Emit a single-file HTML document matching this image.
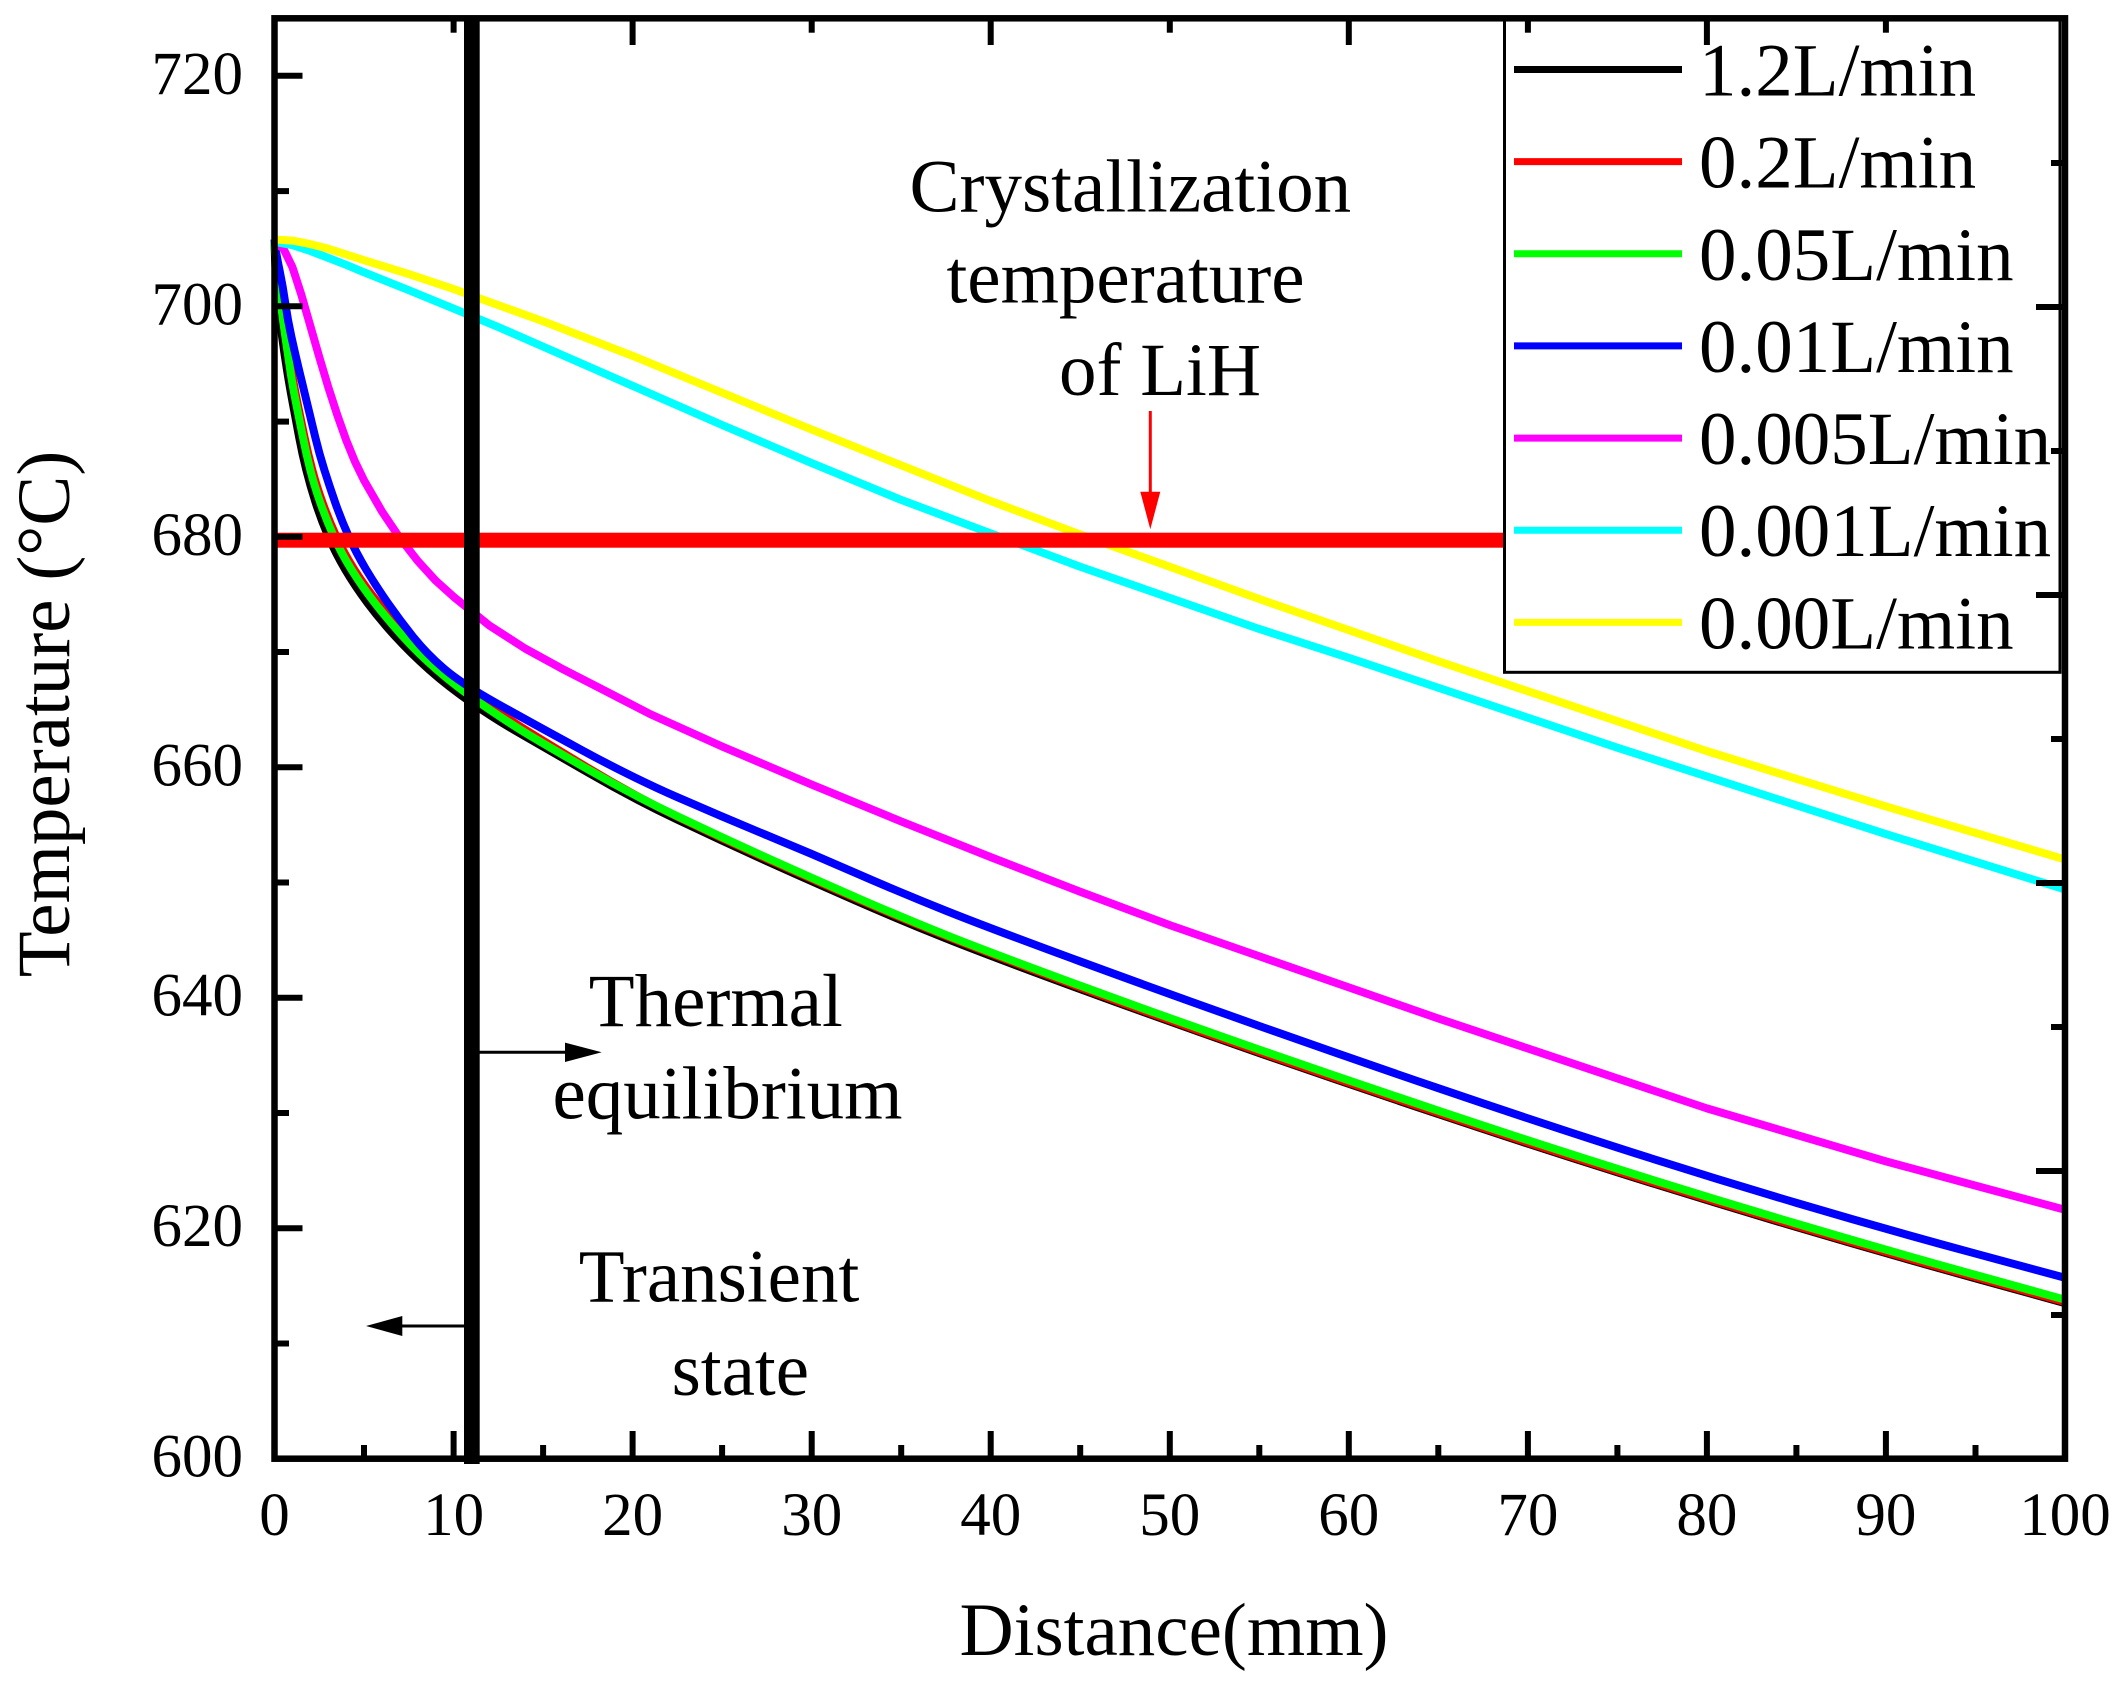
<!DOCTYPE html>
<html>
<head>
<meta charset="utf-8">
<style>
  html,body{margin:0;padding:0;background:#fff;}
  svg{display:block;}
  text{font-family:"Liberation Serif","Times New Roman",serif;fill:#000;}
</style>
</head>
<body>
<svg width="2123" height="1690" viewBox="0 0 2123 1690" xmlns="http://www.w3.org/2000/svg">
  <rect x="0" y="0" width="2123" height="1690" fill="#fff"/>

  <!-- Data curves (data coordinates via transform) -->
  <g transform="matrix(17.905 0 0 -11.524 274.5 8373.1)" fill="none" stroke-linejoin="round" stroke-linecap="butt">
    <!-- 1.2 L/min black -->
    <path vector-effect="non-scaling-stroke" stroke="#000" stroke-width="8"
      d="M0,705.8 L0.025,704.4 Q0.05,703 0.175,700.9 Q0.3,698.8 0.425,697.35 Q0.55,695.9 0.7,694.45 Q0.85,693 1.025,691.55 Q1.2,690.1 1.375,688.65 Q1.55,687.2 1.775,685.8 Q2,684.4 2.3,682.95 Q2.6,681.5 3,680.05 Q3.4,678.6 3.95,677.15 Q4.5,675.7 5.2,674.25 Q5.9,672.8 6.75,671.35 Q7.6,669.9 8.65,668.45 Q9.7,667 11.05,665.55 Q12.4,664.1 13.7,662.95 Q15,661.8 17.5,659.55 Q20,657.3 22.5,655.45 Q25,653.6 27.5,651.85 Q30,650.1 32.5,648.4 Q35,646.7 37.5,645.15 Q40,643.6 45,640.75 Q50,637.9 55,635.2 Q60,632.5 65,629.9 Q70,627.3 75,624.85 Q80,622.4 85,620.1 Q90,617.8 95,615.65 L100,613.5"/>
    <!-- 0.2 L/min red -->
    <path vector-effect="non-scaling-stroke" stroke="#ff0000" stroke-width="8"
      d="M0,705.8 L0.05,704.4 Q0.1,703 0.31,700.9 Q0.52,698.8 0.66,697.35 Q0.8,695.9 0.95,694.45 Q1.1,693 1.29,691.55 Q1.48,690.1 1.675,688.65 Q1.87,687.2 2.11,685.8 Q2.35,684.4 2.685,682.95 Q3.02,681.5 3.445,680.05 Q3.87,678.6 4.46,677.15 Q5.05,675.7 5.8,674.25 Q6.55,672.8 7.4,671.35 Q8.25,669.9 9.35,668.45 Q10.45,667 11.8,665.55 Q13.15,664.1 14.075,663.2 Q15,662.3 17.5,659.95 Q20,657.6 22.5,655.7 Q25,653.8 27.5,652.05 Q30,650.3 32.5,648.6 Q35,646.9 37.5,645.35 Q40,643.8 45,640.9 Q50,638 55,635.3 Q60,632.6 65,630 Q70,627.4 75,624.95 Q80,622.5 85,620.2 Q90,617.9 95,615.75 L100,613.6"/>
    <!-- 0.05 L/min green -->
    <path vector-effect="non-scaling-stroke" stroke="#00ff00" stroke-width="8"
      d="M0,705.8 L0.025,704.95 Q0.05,704.1 0.26,701.45 Q0.47,698.8 0.605,697.35 Q0.74,695.9 0.88,694.45 Q1.02,693 1.21,691.55 Q1.4,690.1 1.585,688.65 Q1.77,687.2 2,685.8 Q2.23,684.4 2.56,682.95 Q2.89,681.5 3.305,680.05 Q3.72,678.6 4.3,677.15 Q4.88,675.7 5.605,674.25 Q6.33,672.8 7.17,671.35 Q8.01,669.9 9.08,668.45 Q10.15,667 11.5,665.55 Q12.85,664.1 13.925,663.075 Q15,662.05 17.5,659.825 Q20,657.6 22.5,655.75 Q25,653.9 27.5,652.15 Q30,650.4 32.5,648.7 Q35,647 37.5,645.45 Q40,643.9 45,641.05 Q50,638.2 55,635.5 Q60,632.8 65,630.2 Q70,627.6 75,625.15 Q80,622.7 85,620.4 Q90,618.1 95,615.95 L100,613.8"/>
    <!-- 0.01 L/min blue -->
    <path vector-effect="non-scaling-stroke" stroke="#0000ff" stroke-width="8"
      d="M0,705.8 L0.05,705.15 Q0.1,704.5 0.285,703.1 Q0.47,701.7 0.605,700.25 Q0.74,698.8 0.945,697.35 Q1.15,695.9 1.375,694.45 Q1.6,693 1.825,691.55 Q2.05,690.1 2.275,688.65 Q2.5,687.2 2.785,685.8 Q3.07,684.4 3.395,682.95 Q3.72,681.5 4.14,680.05 Q4.56,678.6 5.12,677.15 Q5.68,675.7 6.33,674.25 Q6.98,672.8 7.725,671.35 Q8.47,669.9 9.435,668.6 Q10.4,667.3 12.35,665.6 Q14.3,663.9 17.15,661.5 Q20,659.1 22.5,657.4 Q25,655.7 27.5,654.1 Q30,652.5 32.5,650.8 Q35,649.1 37.5,647.55 Q40,646 45,643.15 Q50,640.3 55,637.55 Q60,634.8 65,632.15 Q70,629.5 75,627 Q80,624.5 85,622.2 Q90,619.9 95,617.8 L100,615.7"/>
    <!-- 0.005 L/min magenta -->
    <polyline vector-effect="non-scaling-stroke" stroke="#ff00ff" stroke-width="8"
      points="0,705.6 0.5,705.0 1,703.4 1.5,701.0 2,698.3 2.5,695.6 3,693.0 3.5,690.6 4,688.4 4.5,686.5 5,684.9 6,682.2 7,679.9 8,677.9 9,676.2 10,674.8 12,672.3 14,670.3 16,668.6 18,667.0 21,664.6 25,661.8 30,658.5 35,655.3 40,652.2 45,649.2 50,646.3 55,643.6 60,640.9 65,638.2 70,635.6 75,633.0 80,630.4 85,628.1 90,625.8 95,623.7 100,621.6"/>
    <!-- 0.001 L/min cyan -->
    <polyline vector-effect="non-scaling-stroke" stroke="#00ffff" stroke-width="8"
      points="0,705.6 1,705.3 2,704.8 3,704.2 4,703.6 5,702.95 7.5,701.4 10,699.8 12.5,698.2 15,696.5 20,693.1 25,689.7 30,686.4 35,683.2 40,680.3 45,677.4 50,674.7 55,672.0 60,669.5 65,666.9 70,664.3 75,661.7 80,659.2 85,656.7 90,654.2 95,651.8 100,649.4"/>
    <!-- 0.00 L/min yellow -->
    <polyline vector-effect="non-scaling-stroke" stroke="#ffff00" stroke-width="8"
      points="0,705.8 1,705.7 2,705.4 3,705.0 4,704.5 5,704.0 7.5,702.8 10,701.5 12.5,700.1 15,698.7 20,695.7 25,692.5 30,689.3 35,686.2 40,683.1 45,680.2 50,677.4 55,674.6 60,671.9 65,669.2 70,666.6 75,664.0 80,661.4 85,659.0 90,656.6 95,654.3 100,652.0"/>
  </g>

  <!-- Crystallization temperature line (680) -->
  <rect x="277" y="532.7" width="1228" height="15" fill="#ff0000"/>

  <!-- Thick vertical boundary line at x=11 -->
  <rect x="464" y="18" width="15.7" height="1446" fill="#000"/>

  <!-- Legend box -->
  <rect x="1504.5" y="18.3" width="555.5" height="654" fill="#fff" stroke="#000" stroke-width="3"/>
  <g stroke-width="7">
    <line x1="1514" y1="69.5" x2="1682" y2="69.5" stroke="#000"/>
    <line x1="1514" y1="161.6" x2="1682" y2="161.6" stroke="#ff0000"/>
    <line x1="1514" y1="253.8" x2="1682" y2="253.8" stroke="#00ff00"/>
    <line x1="1514" y1="345.9" x2="1682" y2="345.9" stroke="#0000ff"/>
    <line x1="1514" y1="438.1" x2="1682" y2="438.1" stroke="#ff00ff"/>
    <line x1="1514" y1="530.2" x2="1682" y2="530.2" stroke="#00ffff"/>
    <line x1="1514" y1="622.4" x2="1682" y2="622.4" stroke="#ffff00"/>
  </g>
  <g font-size="75">
    <text x="1699" y="95.5">1.2L/min</text>
    <text x="1699" y="187.6">0.2L/min</text>
    <text x="1699" y="279.8">0.05L/min</text>
    <text x="1699" y="371.9">0.01L/min</text>
    <text x="1699" y="464.1">0.005L/min</text>
    <text x="1699" y="556.2">0.001L/min</text>
    <text x="1699" y="648.4">0.00L/min</text>
  </g>

  <!-- Axis frame -->
  <rect x="274.5" y="18.3" width="1790.5" height="1440.4" fill="none" stroke="#000" stroke-width="6.5"/>

  <!-- Ticks -->
  <g stroke="#000" stroke-width="6">
    <!-- bottom major every 10 -->
    <line x1="453.6" y1="1458.7" x2="453.6" y2="1431"/>
    <line x1="632.6" y1="1458.7" x2="632.6" y2="1431"/>
    <line x1="811.7" y1="1458.7" x2="811.7" y2="1431"/>
    <line x1="990.7" y1="1458.7" x2="990.7" y2="1431"/>
    <line x1="1169.8" y1="1458.7" x2="1169.8" y2="1431"/>
    <line x1="1348.8" y1="1458.7" x2="1348.8" y2="1431"/>
    <line x1="1527.9" y1="1458.7" x2="1527.9" y2="1431"/>
    <line x1="1706.9" y1="1458.7" x2="1706.9" y2="1431"/>
    <line x1="1885.9" y1="1458.7" x2="1885.9" y2="1431"/>
    <!-- bottom minor -->
    <line x1="364.0" y1="1458.7" x2="364.0" y2="1445"/>
    <line x1="543.1" y1="1458.7" x2="543.1" y2="1445"/>
    <line x1="722.1" y1="1458.7" x2="722.1" y2="1445"/>
    <line x1="901.2" y1="1458.7" x2="901.2" y2="1445"/>
    <line x1="1080.2" y1="1458.7" x2="1080.2" y2="1445"/>
    <line x1="1259.3" y1="1458.7" x2="1259.3" y2="1445"/>
    <line x1="1438.3" y1="1458.7" x2="1438.3" y2="1445"/>
    <line x1="1617.4" y1="1458.7" x2="1617.4" y2="1445"/>
    <line x1="1796.4" y1="1458.7" x2="1796.4" y2="1445"/>
    <line x1="1975.5" y1="1458.7" x2="1975.5" y2="1445"/>
    <!-- top major every 20 -->
    <line x1="632.6" y1="18.3" x2="632.6" y2="45"/>
    <line x1="990.7" y1="18.3" x2="990.7" y2="45"/>
    <line x1="1348.8" y1="18.3" x2="1348.8" y2="45"/>
    <line x1="1706.9" y1="18.3" x2="1706.9" y2="45"/>
    <!-- top minor -->
    <line x1="453.6" y1="18.3" x2="453.6" y2="32.7"/>
    <line x1="811.7" y1="18.3" x2="811.7" y2="32.7"/>
    <line x1="1169.8" y1="18.3" x2="1169.8" y2="32.7"/>
    <line x1="1527.9" y1="18.3" x2="1527.9" y2="32.7"/>
    <line x1="1885.9" y1="18.3" x2="1885.9" y2="32.7"/>
    <!-- left major every 20 -->
    <line x1="274.5" y1="1228.2" x2="302.5" y2="1228.2"/>
    <line x1="274.5" y1="997.7" x2="302.5" y2="997.7"/>
    <line x1="274.5" y1="767.3" x2="302.5" y2="767.3"/>
    <line x1="274.5" y1="536.8" x2="302.5" y2="536.8"/>
    <line x1="274.5" y1="306.3" x2="302.5" y2="306.3"/>
    <line x1="274.5" y1="75.8" x2="302.5" y2="75.8"/>
    <!-- left minor -->
    <line x1="274.5" y1="1343.5" x2="289" y2="1343.5"/>
    <line x1="274.5" y1="1113.0" x2="289" y2="1113.0"/>
    <line x1="274.5" y1="882.5" x2="289" y2="882.5"/>
    <line x1="274.5" y1="652.0" x2="289" y2="652.0"/>
    <line x1="274.5" y1="421.6" x2="289" y2="421.6"/>
    <line x1="274.5" y1="191.1" x2="289" y2="191.1"/>
    <!-- right major -->
    <line x1="2065" y1="307" x2="2036" y2="307"/>
    <line x1="2065" y1="595" x2="2036" y2="595"/>
    <line x1="2065" y1="883" x2="2036" y2="883"/>
    <line x1="2065" y1="1171" x2="2036" y2="1171"/>
    <!-- right minor -->
    <line x1="2065" y1="163" x2="2051" y2="163"/>
    <line x1="2065" y1="451" x2="2051" y2="451"/>
    <line x1="2065" y1="739" x2="2051" y2="739"/>
    <line x1="2065" y1="1027" x2="2051" y2="1027"/>
    <line x1="2065" y1="1315" x2="2051" y2="1315"/>
  </g>

  <!-- X tick labels -->
  <g font-size="61" text-anchor="middle">
    <text x="274.5" y="1535">0</text>
    <text x="453.6" y="1535">10</text>
    <text x="632.6" y="1535">20</text>
    <text x="811.7" y="1535">30</text>
    <text x="990.7" y="1535">40</text>
    <text x="1169.8" y="1535">50</text>
    <text x="1348.8" y="1535">60</text>
    <text x="1527.9" y="1535">70</text>
    <text x="1706.9" y="1535">80</text>
    <text x="1885.9" y="1535">90</text>
    <text x="2065" y="1535">100</text>
  </g>
  <!-- Y tick labels -->
  <g font-size="61" text-anchor="end">
    <text x="243" y="1476.7">600</text>
    <text x="243" y="1246.2">620</text>
    <text x="243" y="1015.7">640</text>
    <text x="243" y="785.3">660</text>
    <text x="243" y="554.8">680</text>
    <text x="243" y="324.3">700</text>
    <text x="243" y="93.8">720</text>
  </g>

  <!-- Axis titles -->
  <text x="1174" y="1655" font-size="75" text-anchor="middle">Distance(mm)</text>
  <text transform="translate(69,714) rotate(-90)" font-size="75" text-anchor="middle">Temperature (°C)</text>

  <!-- Annotations -->
  <g font-size="75" text-anchor="middle">
    <text x="1130.3" y="211.7">Crystallization</text>
    <text x="1125.5" y="302.7">temperature</text>
    <text x="1160" y="395">of LiH</text>
    <text x="715.8" y="1026">Thermal</text>
    <text x="727.5" y="1118.3">equilibrium</text>
    <text x="719" y="1301.7">Transient</text>
    <text x="740.3" y="1395">state</text>
  </g>

  <!-- Red arrow -->
  <line x1="1150.3" y1="411" x2="1150.3" y2="496" stroke="#ff0000" stroke-width="3"/>
  <polygon points="1140.3,491.7 1160.3,491.7 1150.3,529.3" fill="#ff0000"/>

  <!-- Right arrow (Thermal equilibrium) -->
  <line x1="479" y1="1052.3" x2="568" y2="1052.3" stroke="#000" stroke-width="3"/>
  <polygon points="565,1042.6 565,1062 601.7,1052.3" fill="#000"/>

  <!-- Left arrow (Transient state) -->
  <line x1="464.5" y1="1326" x2="400" y2="1326" stroke="#000" stroke-width="3"/>
  <polygon points="402.3,1316 402.3,1336 366,1326" fill="#000"/>
</svg>
</body>
</html>
